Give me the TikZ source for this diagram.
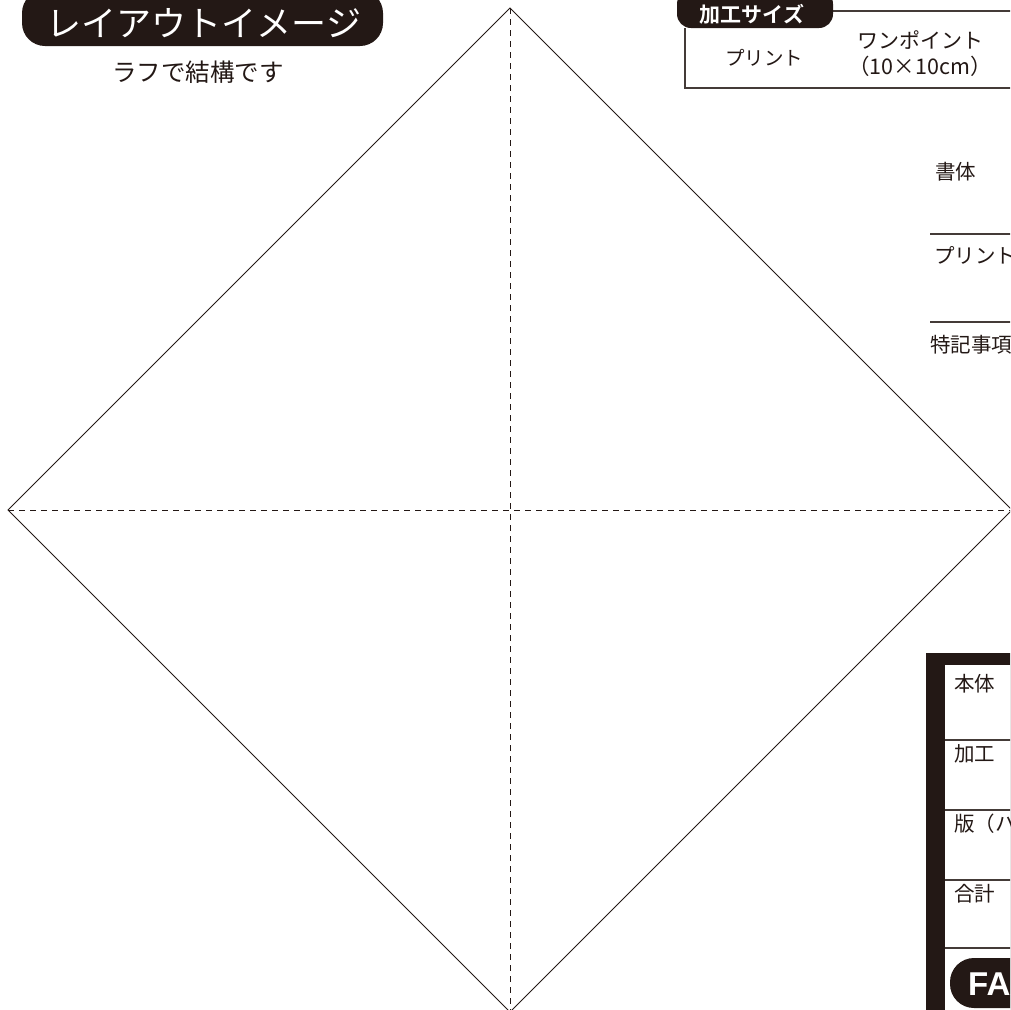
\documentclass[tikz,border=0pt]{standalone}
\usepackage{fontspec}
\newfontfamily\cjk{Noto Sans CJK JP}
\newfontfamily\cjkb{Noto Sans CJK JP Bold}
\newfontfamily\latb{Liberation Sans Bold}
\definecolor{ink}{HTML}{231815}
\tikzset{
  edge/.style={draw=ink, line width=0.9pt},
  fold/.style={draw=ink, line width=1pt, dash pattern=on 6pt off 5pt},
  rule/.style={draw=ink!85, line width=1.3pt},
  pill/.style={fill=ink, rounded corners=#1},
  lbl/.style={text=ink, inner sep=0pt, font=\cjk\fontsize{19.5}{19.5}\selectfont},
  rlbl/.style={lbl, anchor=west, font=\cjk\fontsize{20.5}{20.5}\selectfont},
  wlbl/.style={text=white, inner sep=0pt},
}
\begin{document}
\begin{tikzpicture}[x=1pt,y=-1pt]
\useasboundingbox (0,0) rectangle (1010,1010);
\clip (0,0) rectangle (1010,1010);
% diamond
\coordinate (T) at (510,8);
\coordinate (L) at (8,510);
\coordinate (R) at (1012,510);
\coordinate (B) at (510,1012);
\draw[edge] (T) -- (R) -- (B) -- (L) -- cycle;
\draw[fold] (L) -- (R);
\draw[fold] (T) -- (B);
% title
\fill[pill=23pt] (22,-10) rectangle (383,46);
\node[wlbl, font=\cjk\fontsize{35}{35}\selectfont] (title) at (204,23) {レイアウトイメージ};
\node[lbl, font=\cjk\fontsize{24.5}{24.5}\selectfont] (sub) at (198,72) {ラフで結構です};
% size box
\coordinate (bx1) at (685,28);
\coordinate (bx2) at (685,88);
\coordinate (bx3) at (1012,88);
\coordinate (tl1) at (800,11);
\coordinate (tl2) at (1012,11);
\draw[rule] (bx1) -- (bx2) -- (bx3);
\draw[rule] (tl1) -- (tl2);
\fill[pill=14pt] (677,-10) rectangle (833,28);
\node[wlbl, font=\cjkb\fontsize{21}{21}\selectfont] (kakou) at (752,14) {加工サイズ};
\node[lbl] (print1) at (764,58) {プリント};
\node[lbl, font=\cjk\fontsize{21}{21}\selectfont] (onep) at (920,40) {ワンポイント};
\node[lbl, font=\cjk\fontsize{21.5}{21.5}\selectfont] (size) at (920,66) {（10×10cm）};
% right labels
\node[rlbl] (shotai) at (935,172) {書体};
\coordinate (r1a) at (930,234); \coordinate (r1b) at (1012,234);
\draw[rule] (r1a) -- (r1b);
\node[rlbl] (print2) at (934,255) {プリント};
\coordinate (r2a) at (930,322); \coordinate (r2b) at (1012,322);
\draw[rule] (r2a) -- (r2b);
\node[rlbl] (toki) at (930,345) {特記事項};
% price box
\fill[ink] (926,653) rectangle (1012,1012);
\fill[white] (945,665) rectangle (1012,1012);
\foreach \y in {740,810,880,948} {\draw[rule] (945,\y) -- (1012,\y);}
\node[rlbl] (hontai) at (954,684) {本体};
\node[rlbl] (kakou2) at (954,754) {加工};
\node[rlbl] (han) at (954,824) {版（ハン代）};
\node[rlbl] (gokei) at (954,894) {合計};
\fill[ink, rounded corners=24pt] (950,958) rectangle (1060,1008);
\node[wlbl, anchor=west, font=\latb\fontsize{33}{33}\selectfont] (fax) at (968,984) {FAX};
\end{tikzpicture}
\end{document}
